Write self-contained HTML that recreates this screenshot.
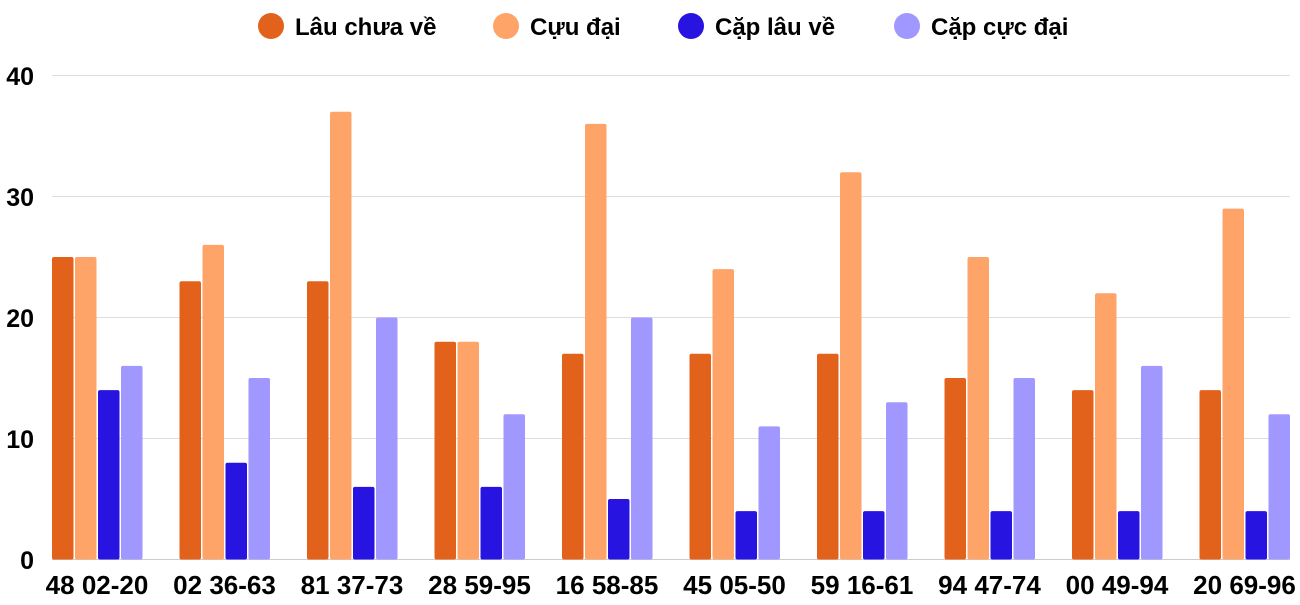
<!DOCTYPE html><html><head><meta charset="utf-8"><style>body{margin:0;background:#fff}svg text{font-family:"Liberation Sans",sans-serif;font-weight:bold;fill:#000}</style></head><body>
<svg width="1300" height="600" xmlns="http://www.w3.org/2000/svg">
<g font-size="24">
<circle cx="271" cy="26" r="13" fill="#E2621B"/><text x="295" y="35">Lâu chưa về</text>
<circle cx="506" cy="26" r="13" fill="#FFA468"/><text x="530" y="35">Cựu đại</text>
<circle cx="691" cy="26" r="13" fill="#2714E0"/><text x="715" y="35">Cặp lâu về</text>
<circle cx="907" cy="26" r="13" fill="#A097FF"/><text x="931" y="35">Cặp cực đại</text>
</g>
<g stroke="#ddd" stroke-width="1">
<line x1="52" x2="1290" y1="75.5" y2="75.5"/><line x1="52" x2="1290" y1="196.5" y2="196.5"/><line x1="52" x2="1290" y1="317.5" y2="317.5"/><line x1="52" x2="1290" y1="438.5" y2="438.5"/><line x1="52" x2="1290" y1="559.5" y2="559.5" stroke="#ccc"/>
</g>
<g font-size="25" text-anchor="end">
<text x="34" y="85">40</text><text x="34" y="206">30</text><text x="34" y="327">20</text><text x="34" y="448">10</text><text x="34" y="569">0</text>
</g>
<g id="bars"></g>
<g font-size="26" text-anchor="middle" id="labels"></g>
</svg>
<script>
var d=[[25,25,14,16],[23,26,8,15],[23,37,6,20],[18,18,6,12],[17,36,5,20],[17,24,4,11],[17,32,4,13],[15,25,4,15],[14,22,4,16],[14,29,4,12]];
var l=["48 02-20","02 36-63","81 37-73","28 59-95","16 58-85","45 05-50","59 16-61","94 47-74","00 49-94","20 69-96"];
var c=["#E2621B","#FFA468","#2714E0","#A097FF"];
var b="",t="";
d.forEach(function(g,i){var x0=52+127.5*i;g.forEach(function(v,j){var h=v*12.1;b+='<rect x="'+(x0+j*23)+'" y="'+(559.5-h)+'" width="21.5" height="'+h+'" rx="2" fill="'+c[j]+'"/>';});t+='<text x="'+(x0+45)+'" y="594">'+l[i]+'</text>';});
document.getElementById("bars").innerHTML=b;document.getElementById("labels").innerHTML=t;
</script>
</body></html>
